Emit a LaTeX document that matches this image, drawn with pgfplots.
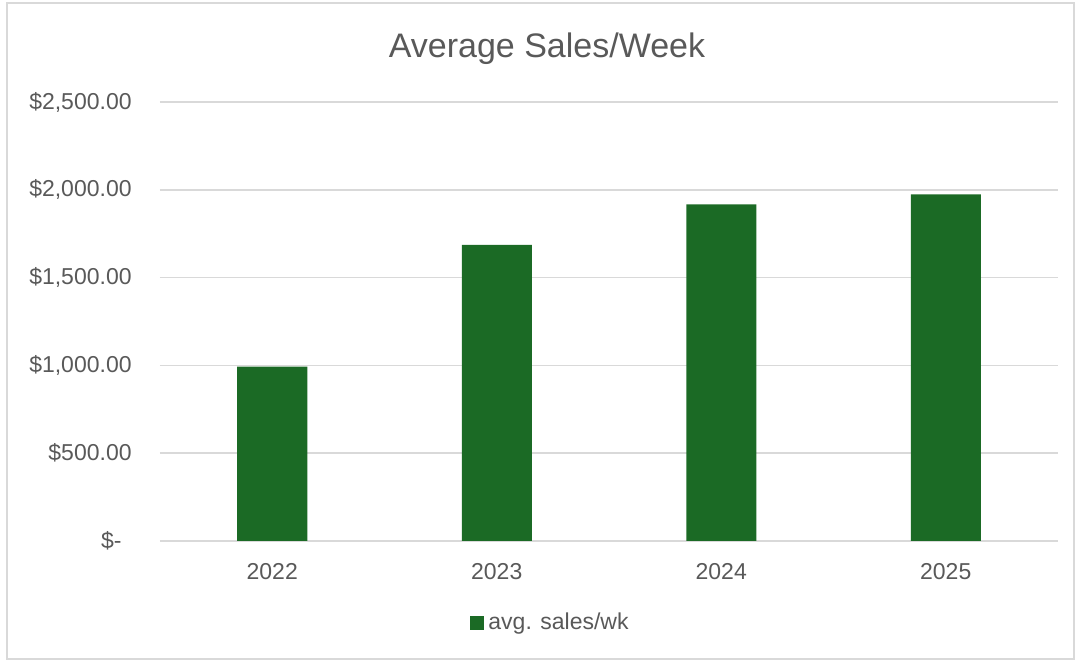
\documentclass[border=0pt]{standalone}
\usepackage{pgfplots}
\pgfplotsset{compat=1.18}
\usepackage{fontspec}
\setmainfont{Liberation Sans}
\definecolor{bargreen}{RGB}{27,106,37}
\definecolor{txtgray}{RGB}{89,89,89}
\definecolor{gridgray}{RGB}{217,217,217}

\begin{document}
\begin{tikzpicture}[x=0.5pt,y=0.5pt]
\useasboundingbox (0,0) rectangle (1077,662);
\draw[gridgray, line width=0.8pt] (7,3) rectangle (1074,659);
\node[anchor=base, text=txtgray, font=\fontsize{17}{20}\selectfont] at (547,604) {Average Sales/Week};
\begin{axis}[
  at={(80pt,60.5pt)}, anchor=south west,
  scale only axis, width=449pt, height=219.5pt,
  ybar, bar width=35pt,
  xmin=-0.5, xmax=3.5, ymin=0, ymax=2500,
  axis x line=bottom, axis y line=left,
  x axis line style={gridgray, line width=0.8pt, -},
  y axis line style={draw=none},
  major tick length=0pt,
  ymajorgrids, grid style={gridgray, line width=0.8pt},
  xtick={0,1,2,3}, xticklabels={2022,2023,2024,2025},
  ytick={0,500,1000,1500,2000,2500},
  yticklabels={\$-\kern5pt, \$500.00, {\$1,000.00}, {\$1,500.00}, {\$2,000.00}, {\$2,500.00}},
  tick label style={text=txtgray, font=\fontsize{11.5}{13}\selectfont, inner sep=0pt},
  yticklabel style={xshift=-14pt},
  xticklabel style={yshift=-11pt},
  legend style={at={(0.436,-0.187)}, anchor=center, draw=none, fill=none,
    font=\fontsize{11.5}{13}\selectfont, text=txtgray},
  legend image code/.code={\fill[bargreen] (-1pt,-3.5pt) rectangle (6pt,3.5pt);},
]
\addplot[fill=bargreen, draw=none] coordinates {(0,993) (1,1687) (2,1917) (3,1974)};
\addlegendentry{avg. sales/wk}
\end{axis}
\end{tikzpicture}
\end{document}
